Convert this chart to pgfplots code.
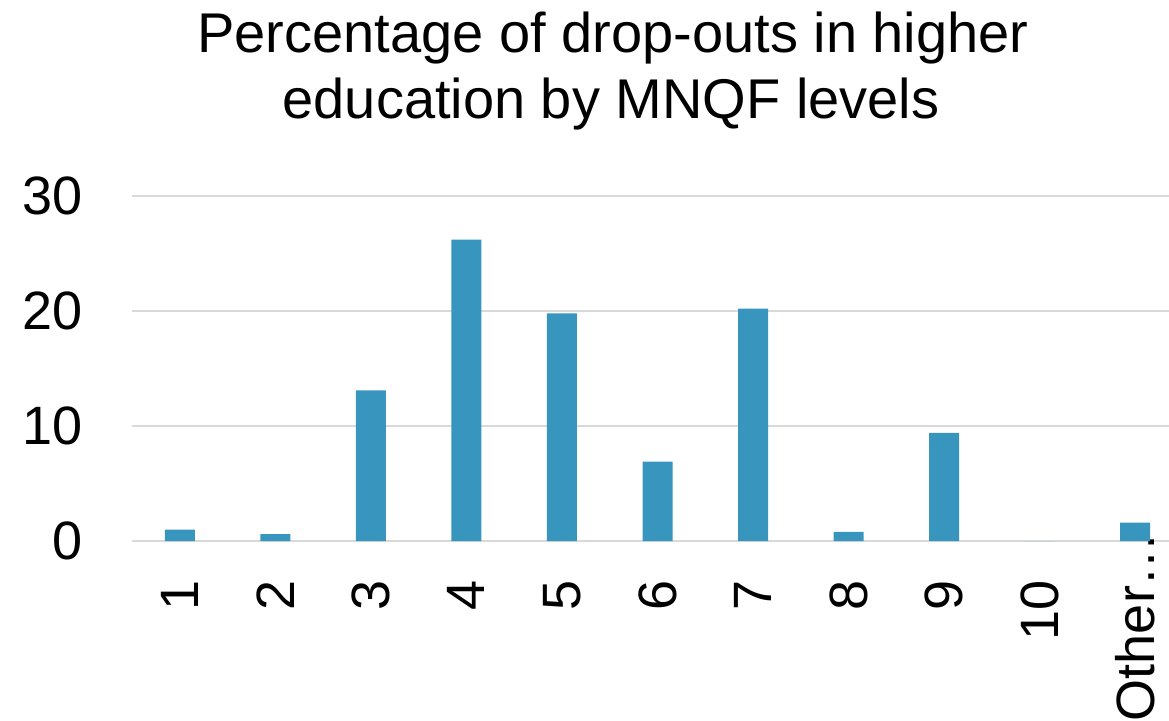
\documentclass[border=0pt]{standalone}
\usepackage{pgfplots}
\pgfplotsset{compat=1.18}
\usepackage{fontspec}
\setmainfont{Liberation Sans}
\definecolor{barblue}{RGB}{56,150,190}
\definecolor{gridgray}{RGB}{217,217,217}
\begin{document}
\begin{tikzpicture}
\useasboundingbox (0,0) rectangle (584.5pt,360pt);
\node[anchor=base, inner sep=0pt, font=\fontsize{28}{33}\selectfont] at (306.5pt,334pt) {Percentage of drop-outs in higher};
\node[anchor=base, inner sep=0pt, font=\fontsize{28}{33}\selectfont] at (305.5pt,301pt) {education by MNQF levels};
\begin{axis}[
  at={(66pt,89.5pt)}, anchor=south west,
  scale only axis, width=525.5pt, height=172.5pt,
  xmin=-0.5, xmax=10.5, ymin=0, ymax=30,
  axis lines=left, axis line style={draw=none},
  ybar, bar width=15pt,
  ytick={0,10,20,30},
  xtick={0,...,10},
  xticklabels={1,2,3,4,5,6,7,8,9,10,{Other\dots\hspace*{-24pt}}},
  ymajorgrids, grid style={gridgray, line width=0.75pt},
  major tick length=0pt,
  tick label style={font=\fontsize{27}{31}\selectfont, inner sep=0pt},
  /pgf/number format/assume math mode=true,
  yticklabel style={anchor=east, xshift=-24.5pt},
  xticklabel style={yshift=-19.3pt, rotate=90, anchor=east},
  clip=false,
]
\addplot[fill=barblue, draw=none] coordinates {
(0,1.0) (1,0.6) (2,13.1) (3,26.2) (4,19.8) (5,6.9) (6,20.2) (7,0.8) (8,9.4) (9,0) (10,1.6)};
\end{axis}
\end{tikzpicture}
\end{document}
